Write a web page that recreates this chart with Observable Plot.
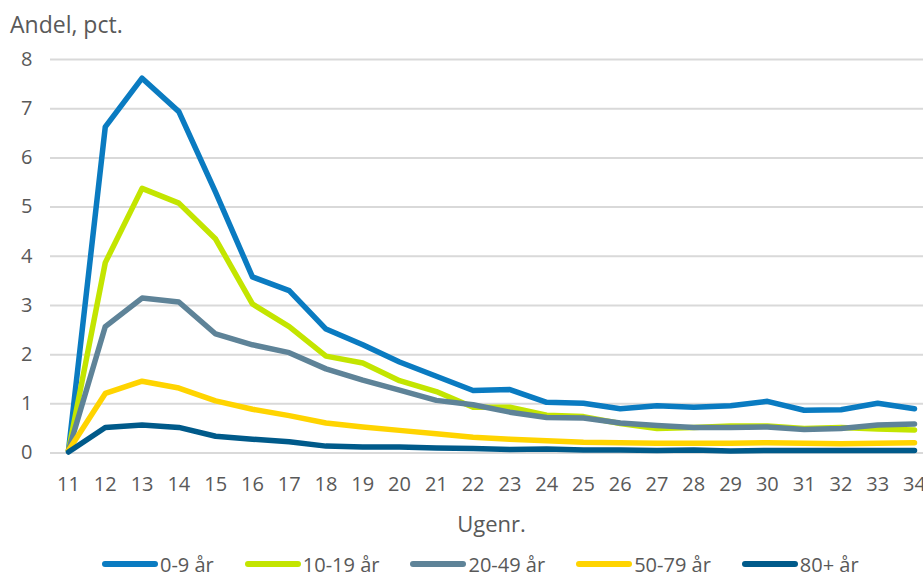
<!DOCTYPE html>
<html>
<head>
<meta charset="utf-8">
<script src="https://cdn.jsdelivr.net/npm/d3@7"></script>
<script src="https://cdn.jsdelivr.net/npm/@observablehq/plot@0.6"></script>
<style>
  html, body { margin: 0; padding: 0; background: #fff; }
  #wrap { position: relative; width: 923px; height: 578px; overflow: hidden; font-family: "Open Sans", sans-serif; color: #595959; }
  #title { position: absolute; left: 10px; top: 13px; font-size: 23px; line-height: 23px; white-space: nowrap; }
  #chart { position: absolute; left: 0; top: 40px; }
  #legend { position: absolute; left: 0; top: 550px; height: 28px; display: flex; align-items: center; padding-left: 102px; font-size: 20px; line-height: 27px; }
  .item { display: flex; align-items: center; margin-right: 31px; }
  .sw { width: 56px; height: 6px; border-radius: 3px; margin-right: 2px; }
</style>
</head>
<body>
<div id="wrap">
  <div id="title">Andel, pct.</div>
  <div id="chart"></div>
  <div id="legend"></div>
</div>
<script>
const weeks = [11,12,13,14,15,16,17,18,19,20,21,22,23,24,25,26,27,28,29,30,31,32,33,34];
const seriesNames = ["0-9 år", "10-19 år", "20-49 år", "50-79 år", "80+ år"];
const seriesColors = ["#0a7bc1", "#c3e500", "#5e8398", "#ffd400", "#005a8a"];
const age0_9   = [0.05, 6.63, 7.62, 6.94, 5.30, 3.58, 3.30, 2.52, 2.20, 1.85, 1.56, 1.27, 1.29, 1.03, 1.01, 0.90, 0.96, 0.93, 0.96, 1.05, 0.87, 0.88, 1.01, 0.90];
const age10_19 = [0.05, 3.87, 5.38, 5.08, 4.35, 3.03, 2.57, 1.97, 1.83, 1.47, 1.25, 0.93, 0.93, 0.77, 0.74, 0.60, 0.50, 0.52, 0.55, 0.55, 0.50, 0.52, 0.49, 0.47];
const age20_49 = [0.05, 2.57, 3.15, 3.07, 2.42, 2.20, 2.04, 1.71, 1.48, 1.28, 1.07, 0.98, 0.83, 0.72, 0.71, 0.61, 0.56, 0.52, 0.52, 0.53, 0.48, 0.50, 0.57, 0.59];
const age50_79 = [0.05, 1.21, 1.46, 1.32, 1.06, 0.89, 0.76, 0.61, 0.53, 0.46, 0.39, 0.32, 0.28, 0.25, 0.22, 0.21, 0.20, 0.20, 0.20, 0.21, 0.20, 0.19, 0.20, 0.21];
const age80    = [0.02, 0.52, 0.57, 0.52, 0.34, 0.28, 0.23, 0.14, 0.12, 0.12, 0.10, 0.09, 0.07, 0.08, 0.06, 0.06, 0.05, 0.06, 0.04, 0.05, 0.05, 0.05, 0.05, 0.05];
const yTicks = [0,1,2,3,4,5,6,7,8];
const xLabel = "Ugenr.";

const allSeries = [age0_9, age10_19, age20_49, age50_79, age80];
const rows = [];
allSeries.forEach((vals, i) => vals.forEach((v, j) => rows.push({series: seriesNames[i], week: weeks[j], value: v})));

const font = "'Open Sans', sans-serif";
const plot = Plot.plot({
  width: 923,
  height: 500,
  marginTop: 19,
  marginBottom: 87.5,
  marginLeft: 68,
  marginRight: 9,
  style: {fontFamily: font, fontSize: "20px", color: "#595959", background: "#fff", overflow: "visible"},
  x: {domain: [11, 34], ticks: weeks, tickFormat: d => String(d), tickSize: 0, tickPadding: 24, label: null},
  y: {domain: [0, 8], ticks: yTicks, tickSize: 0, tickPadding: 36, label: null},
  color: {domain: seriesNames, range: seriesColors},
  marks: [
    Plot.ruleY(yTicks, {stroke: "#d9d9d9", strokeWidth: 2, insetLeft: -18, insetRight: -9}),
    Plot.axisX({ticks: weeks, tickFormat: d => String(d), tickSize: 0, tickPadding: 24, fill: "#595959", fontSize: 20, label: null}),
    Plot.axisY({ticks: yTicks, tickSize: 0, tickPadding: 36, fill: "#595959", fontSize: 20, label: null}),
    Plot.line(rows, {x: "week", y: "value", z: "series", stroke: "series", strokeWidth: 5.5, strokeLinejoin: "round", strokeLinecap: "round"}),
    Plot.text([xLabel], {frameAnchor: "bottom", dy: 71.5, lineAnchor: "middle", fontSize: 22, fill: "#595959"})
  ]
});
document.getElementById("chart").appendChild(plot);

const legend = document.getElementById("legend");
seriesNames.forEach((name, i) => {
  const item = document.createElement("div");
  item.className = "item";
  const sw = document.createElement("span");
  sw.className = "sw";
  sw.style.background = seriesColors[i];
  const label = document.createElement("span");
  label.textContent = name;
  item.appendChild(sw);
  item.appendChild(label);
  legend.appendChild(item);
});
</script>
</body>
</html>
